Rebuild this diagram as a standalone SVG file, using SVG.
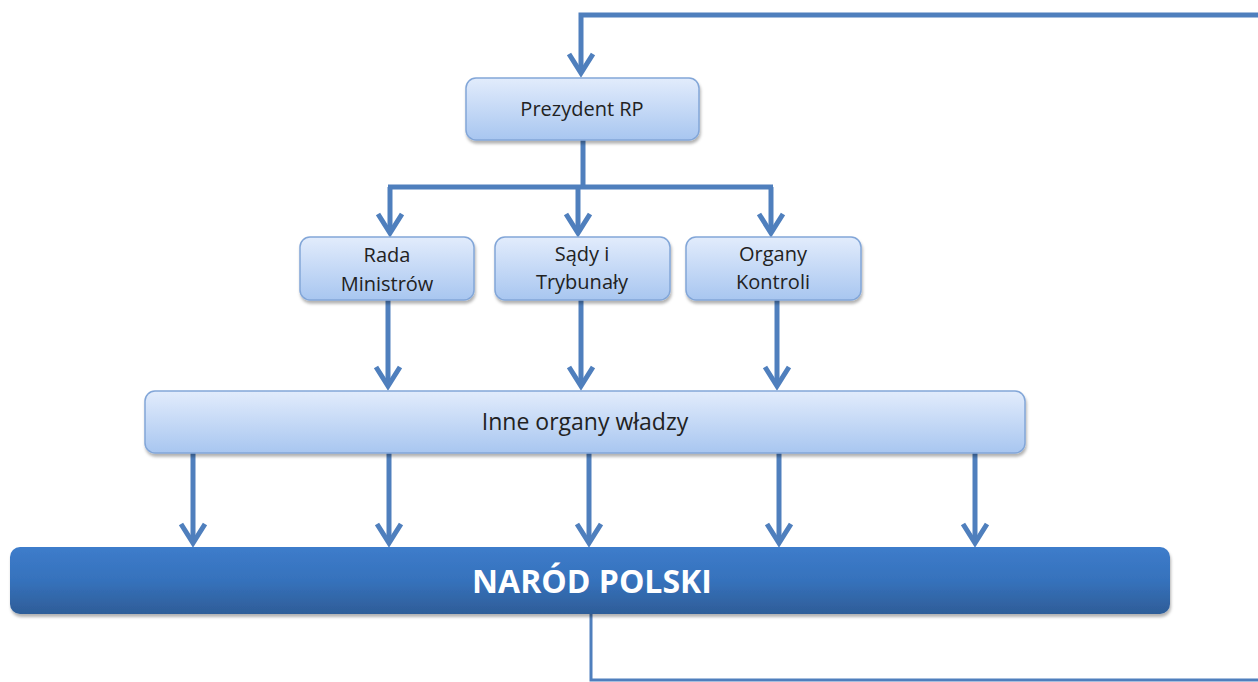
<svg xmlns="http://www.w3.org/2000/svg" width="1258" height="682" viewBox="0 0 1258 682">
<style>
.box{fill:url(#lg);stroke:#82a6d8;stroke-width:1.5;filter:url(#sh)}
.lbl{font-family:"Open Sans","Liberation Sans",sans-serif;font-size:20px;fill:#222;text-anchor:middle}
.con{fill:none;stroke:#4f7fbd;stroke-width:5;stroke-linejoin:miter}
.ah{fill:none;stroke:#4f7fbd;stroke-width:5}
</style>
<defs>
<linearGradient id="lg" x1="0" y1="0" x2="0" y2="1">
<stop offset="0" stop-color="#e2ecfc"/>
<stop offset="1" stop-color="#a8c6f0"/>
</linearGradient>
<linearGradient id="dg" x1="0" y1="0" x2="0" y2="1">
<stop offset="0" stop-color="#3d7ccb"/>
<stop offset="0.5" stop-color="#3672bc"/>
<stop offset="1" stop-color="#2e5d98"/>
</linearGradient>
<filter id="sh" x="-5%" y="-20%" width="110%" height="150%">
<feDropShadow dx="1" dy="3" stdDeviation="1.5" flood-color="#000" flood-opacity="0.3"/>
</filter>
</defs>
<g id="connectors">
<path class="con" d="M1258,15 L581,15 L581,72"/>
<path class="ah" d="M569,54 L581,73 L593,54"/>
<path class="con" d="M583,140 L583,187"/>
<path class="con" d="M388,187 L773,187"/>
<path class="con" d="M390,187 L390,232"/>
<path class="ah" d="M378,214 L390,233 L402,214"/>
<path class="con" d="M578,187 L578,232"/>
<path class="ah" d="M566,214 L578,233 L590,214"/>
<path class="con" d="M771,187 L771,232"/>
<path class="ah" d="M759,214 L771,233 L783,214"/>
<path class="con" d="M388,300 L388,385"/>
<path class="ah" d="M376,367 L388,386 L400,367"/>
<path class="con" d="M581,300 L581,385"/>
<path class="ah" d="M569,367 L581,386 L593,367"/>
<path class="con" d="M777,300 L777,385"/>
<path class="ah" d="M765,367 L777,386 L789,367"/>
<path class="con" d="M193,453 L193,542"/>
<path class="ah" d="M181,524 L193,543 L205,524"/>
<path class="con" d="M389,453 L389,542"/>
<path class="ah" d="M377,524 L389,543 L401,524"/>
<path class="con" d="M589,453 L589,542"/>
<path class="ah" d="M577,524 L589,543 L601,524"/>
<path class="con" d="M779,453 L779,542"/>
<path class="ah" d="M767,524 L779,543 L791,524"/>
<path class="con" d="M975,453 L975,542"/>
<path class="ah" d="M963,524 L975,543 L987,524"/>
<path d="M591,614 L591,680 L1258,680" fill="none" stroke="#4f7fbd" stroke-width="3"/>
</g>
<g id="prezydent">
<rect class="box" x="466" y="78" width="233" height="62" rx="10"/>
<text class="lbl" x="582" y="116">Prezydent RP</text>
</g>
<g id="rada">
<rect class="box" x="300" y="237" width="174" height="63" rx="10"/>
<text class="lbl" x="387" y="262">Rada</text>
<text class="lbl" x="387" y="291">Ministrów</text>
</g>
<g id="sady">
<rect class="box" x="495" y="237" width="175" height="63" rx="10"/>
<text class="lbl" x="582" y="261">Sądy i</text>
<text class="lbl" x="582" y="289">Trybunały</text>
</g>
<g id="organy">
<rect class="box" x="686" y="237" width="175" height="63" rx="10"/>
<text class="lbl" x="773" y="261">Organy</text>
<text class="lbl" x="773" y="289">Kontroli</text>
</g>
<g id="inne">
<rect class="box" x="145" y="391" width="880" height="62" rx="10"/>
<text class="lbl" x="585" y="430" style="font-size:23px">Inne organy władzy</text>
</g>
<g id="narod">
<rect x="10" y="547" width="1160" height="67" rx="10" fill="url(#dg)" filter="url(#sh)"/>
<text x="592" y="593" style="font-family:'Open Sans','Liberation Sans',sans-serif;font-size:32px;font-weight:bold;fill:#fff;text-anchor:middle">NARÓD POLSKI</text>
</g>
</svg>
